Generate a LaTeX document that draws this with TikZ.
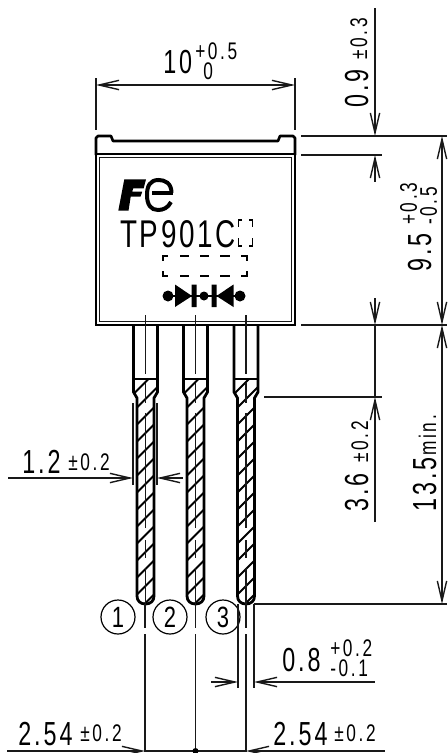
\documentclass[tikz,border=0pt]{standalone}
\usepackage{fontspec}
\setmainfont{Liberation Sans}
\newfontfamily\bigfont[FakeStretch=0.7,LetterSpace=9]{Liberation Sans}
\newfontfamily\smallfont[FakeStretch=0.72,LetterSpace=11]{Liberation Sans}
\newfontfamily\modelfont[FakeStretch=0.72,LetterSpace=7]{Liberation Sans}
\newfontfamily\pinfont[FakeStretch=0.75]{Liberation Sans}
\usetikzlibrary{arrows.meta}
\tikzset{
  px/.style={x=0.75pt,y=-0.75pt},
  dimline/.style={line width=1.25pt,black!90},
  thinline/.style={line width=1.05pt,black!90},
  outline/.style={line width=2pt,line join=round},
  leadline/.style={line width=2.1pt,line join=round},
  hatchline/.style={line width=1.5pt},
  tipA/.style={-{Straight Barb[length=15pt,width=7pt,line width=1.05pt]}},
  tipB/.style={{Straight Barb[length=15pt,width=7pt,line width=1.05pt]}-},
  tipC/.style={{Straight Barb[length=15pt,width=7pt,line width=1.05pt]}-{Straight Barb[length=15pt,width=7pt,line width=1.05pt]}},
  big/.style={inner sep=0pt,font=\bigfont\fontsize{25}{25}\selectfont},
  small/.style={inner sep=0pt,font=\smallfont\fontsize{18}{18}\selectfont},
  stack/.style={inner sep=0pt,align=left,font=\smallfont\fontsize{18}{15}\selectfont},
  model/.style={inner sep=0pt,font=\modelfont\fontsize{29}{29}\selectfont},
  pin/.style={draw,circle,line width=0.9pt,minimum size=25.5pt,inner sep=0pt,font=\pinfont\fontsize{22}{22}\selectfont},
}
\newcommand{\leadshape}[1]{%
  \begin{scope}[shift={(#1,0)}]
    \begin{scope}
      \clip (-12,379) -- (-12,392) -- (-8.5,398) -- (-8.5,596) .. controls (-8.5,601) and (-5,604) .. (0,604) .. controls (5,604) and (8.5,601) .. (8.5,596) -- (8.5,398) -- (12,392) -- (12,379) -- cycle;
      \foreach \yy in {402,419,...,640} \draw[hatchline] (-20,\yy) -- (20,\yy-40);
    \end{scope}
    \draw[leadline] (-12,325) -- (-12,392) -- (-8.5,398) -- (-8.5,596) .. controls (-8.5,601) and (-5,604) .. (0,604) .. controls (5,604) and (8.5,601) .. (8.5,596) -- (8.5,398) -- (12,392) -- (12,325);
    \draw[line width=1.6pt] (-12,379) -- (12,379);
    \draw[thinline] (0,315) -- (0,374);
    \draw[thinline] (0,383) -- (0,403) (0,413) -- (0,528) (0,540) -- (0,558) (0,568) -- (0,604);
  \end{scope}}
\begin{document}
\begin{tikzpicture}[px]
\useasboundingbox (0,0) rectangle (447,753);
% body
\draw[outline] (96,155) -- (96,138) -- (98,136) -- (111,136) -- (113,141) -- (278,141) -- (280,136) -- (293,136) -- (295,138) -- (295,155);
\draw[line width=1.9pt] (96,154) rectangle (295,325);
\draw[line width=1.4pt,black!90] (99.5,157.5) rectangle (291.5,321.5);
% logo
\fill (124.3,179.3) -- (146,179.3) -- (143.7,188.3) -- (133.2,188.3) -- (132.2,191.7) -- (142.2,191.7) -- (140.5,196.7) -- (130.7,196.7) -- (128.5,210.7) -- (118.3,210.7) -- cycle;
\draw[line width=3pt] (171.5,193) .. controls (171.5,183) and (165,180) .. (158.5,180) .. controls (150,180) and (147,186) .. (147,195) .. controls (147,205) and (151,210) .. (158,210) .. controls (163,210) and (168,208) .. (171,202);
\draw[line width=2.4pt] (152,193) -- (172.5,193);
% model
\node[model,anchor=base west] (model) at (120,247) {TP901C};
\draw[line width=1.1pt] (242,220) -- (238.5,220) -- (238.5,227) (249,220) -- (252.5,220) -- (252.5,227) (238.5,238) -- (238.5,246) -- (242,246) (252.5,238) -- (252.5,246) -- (249,246);
% dashed box
\foreach \yy in {256,276} \draw[line width=1.1pt] (180,\yy) -- (189,\yy) (200,\yy) -- (209,\yy) (220,\yy) -- (230,\yy);
\draw[line width=1.1pt] (168,256) -- (163,256) -- (163,261) (241,256) -- (247,256) -- (247,261) (163,271) -- (163,276) -- (168,276) (247,271) -- (247,276) -- (241,276);
% diode
\fill (168,296) circle (5.5) (204,296) circle (4.5) (240,296) circle (5.5);
\draw[line width=2.2pt] (168,296) -- (240,296);
\fill (175,284.5) -- (192,296) -- (175,307) -- cycle (233.5,284.5) -- (216.5,296) -- (233.5,307) -- cycle;
\fill (191.5,284.5) rectangle (196.5,307) (211.5,284.5) rectangle (216.5,307);
% leads
\leadshape{145.5}
\leadshape{195.5}
\leadshape{246}
% pin labels
\node[pin] (p1) at (118,617) {1};
\node[pin] (p2) at (170,617) {2};
\node[pin] (p3) at (223,617) {3};
% lower centre lines
\foreach \xx in {145,195.5,246} \draw[thinline] (\xx,604) -- (\xx,628) (\xx,634) -- (\xx,752);
\draw[thinline] (238,604) -- (238,688);
\draw[thinline] (254,604) -- (254,688);
% 10 dim
\node[big,anchor=base west] (t10) at (163,73) {10};
\node[stack,anchor=west] (t10a) at (195,61.5) {+0.5\\\hspace*{6pt}0};
\draw[thinline] (96,78) -- (96,130) (295,78) -- (295,130);
\draw[dimline,tipC] (96,85) -- (295,85);
% right horizontal extension
\draw[dimline] (301,136) -- (447,136);
\draw[dimline] (301,155) -- (382,155);
\draw[dimline] (301,325) -- (447,325);
\draw[dimline] (264,397) -- (382,397);
\draw[dimline] (254,604) -- (447,604);
% right dims
\draw[dimline,tipA] (375,8) -- (375,136);
\draw[dimline,tipB] (375,155) -- (375,182);
\draw[dimline,tipA] (375,298) -- (375,325);
\draw[dimline] (375,325) -- (375,397);
\draw[dimline,tipA] (375,522) -- (375,397);
\draw[dimline,tipC,line width=1.7pt] (442,136) -- (442,325);
\draw[dimline,tipC,line width=1.7pt] (442,325) -- (442,604);
% rotated labels
\node[big,rotate=90,anchor=base west] (t09) at (368,108) {0.9};
\node[small,rotate=90,anchor=base west] (t09a) at (367,60) {±0.3};
\node[big,rotate=90,anchor=base west] (t95) at (431,272) {9.5};
\node[stack,rotate=90,anchor=west] (t95a) at (418.5,225) {+0.3\\-0.5};
\node[big,rotate=90,anchor=base west] (t36) at (368,512) {3.6};
\node[small,rotate=90,anchor=base west] (t36a) at (368,463) {±0.2};
\node[big,rotate=90,anchor=base west] (t135) at (436,512) {13.5};
\node[small,rotate=90,anchor=base west] (t135a) at (436,456) {min.};
% 1.2 dim
\draw[thinline] (133,403) -- (133,485) (157,403) -- (157,485);
\draw[dimline,tipA] (8,478) -- (133,478);
\draw[dimline,tipB] (157,478) -- (183,478);
\node[big,anchor=base west] (t12) at (22,473) {1.2};
\node[small,anchor=base west] (t12a) at (68,470) {±0.2};
% 0.8 dim
\draw[dimline,tipA] (211,682) -- (238,682);
\draw[dimline,tipB] (254,682) -- (375,682);
\node[big,anchor=base west] (t08) at (282,671) {0.8};
\node[stack,anchor=west] (t08a) at (330,658) {+0.2\\-0.1};
% 2.54 dims
\draw[dimline,tipA] (7,751) -- (145,751);
\draw[dimline,tipB] (246,751) -- (385,751);
\draw[dimline] (145,751) -- (246,751);
\fill (195.5,751) circle (3);
\node[big,anchor=base west] (t254a) at (18,745) {2.54};
\node[small,anchor=base west] (t254b) at (80,741) {±0.2};
\node[big,anchor=base west] (t254c) at (273,745) {2.54};
\node[small,anchor=base west] (t254d) at (334,741) {±0.2};
\end{tikzpicture}
\end{document}
